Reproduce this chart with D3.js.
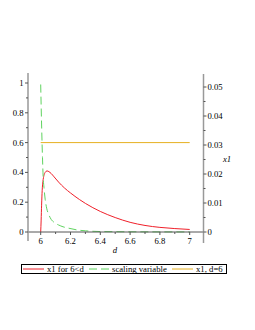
<!DOCTYPE html>
<html><head><meta charset="utf-8">
<script src="https://cdn.jsdelivr.net/npm/d3@7"></script>
<style>body{margin:0;background:#fff}svg{display:block}</style>
</head><body>
<script>
const redD   = [6.000,6.003,6.006,6.010,6.015,6.022,6.030,6.042,6.055,6.070,6.090,6.120,6.160,6.200,6.260,6.300,6.400,6.500,6.600,6.700,6.800,6.900,7.000];
const redV   = [0,0.08,0.18,0.28,0.34,0.38,0.40,0.41,0.405,0.393,0.37,0.335,0.295,0.262,0.218,0.192,0.138,0.097,0.065,0.044,0.031,0.023,0.017];
const greenD = [6.000,6.003,6.007,6.012,6.017,6.022,6.030,6.040,6.055,6.070,6.090,6.120,6.150,6.190,6.250,6.300,6.400,6.500,6.700,7.000];
const greenV = [0.99,0.85,0.68,0.50,0.36,0.30,0.22,0.16,0.115,0.085,0.065,0.047,0.035,0.025,0.013,0.008,0.003,0.002,0.001,0.0005];
const yellowD = [6,7];
const yellowV = [0.6,0.6];
const xTicks = [6,6.2,6.4,6.6,6.8,7];
const xMinor = [6.1,6.3,6.5,6.7,6.9];
const yTicks = [0,0.2,0.4,0.6,0.8,1];
const yMinor = [0.1,0.3,0.5,0.7,0.9];
const y2Ticks = [0,0.01,0.02,0.03,0.04,0.05];
const y2Minor = [0.005,0.015,0.025,0.035,0.045];
const legendLabels = ["x1 for 6<d","scaling variable","x1, d=6"];
const colors = ["#f0202a","#5fd35f","#e6b020"];

const W=255,H=330;
const svg=d3.select("body").append("svg").attr("width",W).attr("height",H);
const x=d3.scaleLinear().domain([6,7]).range([40.7,189.7]);
const y=d3.scaleLinear().domain([0,1]).range([232,83]);
const y2=d3.scaleLinear().domain([0,0.05]).range([232,87]);
const font="'Liberation Serif','Times New Roman',serif";
const fs=8.7;

const line=d3.line().x(d=>x(d[0])).y(d=>y(d[1])).curve(d3.curveMonotoneX);
const zip=(a,b)=>a.map((v,i)=>[v,b[i]]);

// curves
svg.append("path").attr("d",line(zip(yellowD,yellowV))).attr("fill","none").attr("stroke",colors[2]).attr("stroke-width",1);
svg.append("path").attr("d",line(zip(redD,redV))).attr("fill","none").attr("stroke",colors[0]).attr("stroke-width",1);
svg.append("path").attr("d",line(zip(greenD,greenV))).attr("fill","none").attr("stroke",colors[1]).attr("stroke-width",1).attr("stroke-dasharray","8,4");

// x axis
const gx=svg.append("g");
gx.append("line").attr("x1",28).attr("x2",203.5).attr("y1",232).attr("y2",232).attr("stroke","#555").attr("stroke-width",1);
xTicks.forEach(t=>{
  gx.append("line").attr("x1",x(t)).attr("x2",x(t)).attr("y1",232).attr("y2",235).attr("stroke","#555");
  gx.append("text").attr("x",x(t)).attr("y",244).attr("text-anchor","middle").attr("font-family",font).attr("font-size",fs).text(d3.format("")(t));
});
xMinor.forEach(t=>gx.append("line").attr("x1",x(t)).attr("x2",x(t)).attr("y1",232).attr("y2",234).attr("stroke","#555"));
svg.append("text").attr("x",115).attr("y",253).attr("text-anchor","middle").attr("font-family",font).attr("font-style","italic").attr("font-size",fs).text("d");

// left axis
const gy=svg.append("g");
gy.append("line").attr("x1",28).attr("x2",28).attr("y1",73).attr("y2",241).attr("stroke","#999").attr("stroke-width",1.5);
yTicks.forEach(t=>{
  gy.append("line").attr("x1",25).attr("x2",28).attr("y1",y(t)).attr("y2",y(t)).attr("stroke","#555");
  gy.append("text").attr("x",23.5).attr("y",y(t)+3).attr("text-anchor","end").attr("font-family",font).attr("font-size",fs).text(d3.format("")(t));
});
yMinor.forEach(t=>gy.append("line").attr("x1",26).attr("x2",28).attr("y1",y(t)).attr("y2",y(t)).attr("stroke","#555"));

// right axis
const gy2=svg.append("g");
gy2.append("line").attr("x1",203.5).attr("x2",203.5).attr("y1",74).attr("y2",243).attr("stroke","#999").attr("stroke-width",1.5);
y2Ticks.forEach(t=>{
  gy2.append("line").attr("x1",203.5).attr("x2",206.5).attr("y1",y2(t)).attr("y2",y2(t)).attr("stroke","#555");
  gy2.append("text").attr("x",207.5).attr("y",y2(t)+3).attr("text-anchor","start").attr("font-family",font).attr("font-size",fs).text(d3.format("")(t));
});
y2Minor.forEach(t=>gy2.append("line").attr("x1",203.5).attr("x2",205.5).attr("y1",y2(t)).attr("y2",y2(t)).attr("stroke","#555"));
svg.append("text").attr("x",227).attr("y",162).attr("text-anchor","middle").attr("font-family",font).attr("font-style","italic").attr("font-size",fs).text("x1");

// legend
const lg=svg.append("g");
lg.append("rect").attr("x",21.5).attr("y",264.5).attr("width",205).attr("height",9).attr("fill","none").attr("stroke","#000").attr("stroke-width",1);
const lx=[[23,44,47],[89,110,112],[172,193,196]];
legendLabels.forEach((lab,i)=>{
  const l=lg.append("line").attr("x1",lx[i][0]).attr("x2",lx[i][1]).attr("y1",269).attr("y2",269).attr("stroke",colors[i]).attr("stroke-width",1);
  if(i===1) l.attr("stroke-dasharray","8,4");
  lg.append("text").attr("x",lx[i][2]).attr("y",272).attr("font-family",font).attr("font-size",fs).text(lab);
});
</script>
</body></html>
